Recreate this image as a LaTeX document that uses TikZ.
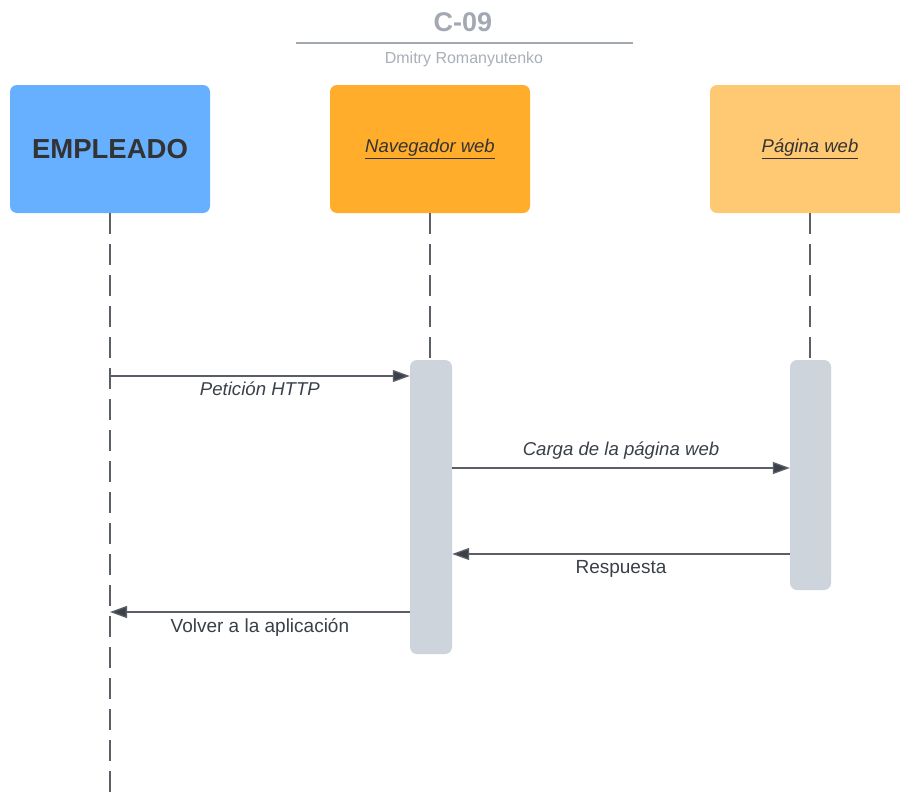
\documentclass[tikz,border=0pt]{standalone}
\usepackage{fontspec}
\setmainfont{Liberation Sans}
\usetikzlibrary{arrows.meta}

\definecolor{titlegray}{HTML}{A3A9B3}
\definecolor{subgray}{HTML}{A9AFB8}
\definecolor{empblue}{HTML}{67B0FF}
\definecolor{navorange}{HTML}{FFAD2B}
\definecolor{paglight}{HTML}{FFC973}
\definecolor{actgray}{HTML}{CED4DC}
\definecolor{inkdark}{HTML}{333333}
\definecolor{labelink}{HTML}{3A4049}
\definecolor{wire}{HTML}{5A5F66}
\definecolor{tipink}{HTML}{3B4148}

\tikzset{
  actor/.style={rounded corners=7pt, minimum width=200pt, minimum height=128pt,
    inner sep=0pt, text=inkdark},
  activation/.style={rounded corners=7pt, fill=actgray, minimum width=42pt,
    inner sep=0pt},
  lifeline/.style={draw=wire, line width=1.3pt, dash pattern=on 21pt off 10pt},
  msg/.style={draw=wire, line width=1.3pt,
    -{Triangle[length=17pt,width=12pt,fill=tipink]}},
  msglabel/.style={text=labelink, font=\fontsize{19}{21}\selectfont, inner sep=0pt},
  italabel/.style={msglabel, font=\itshape\fontsize{18.6}{21}\selectfont},
}

\begin{document}
\begin{tikzpicture}[x=1pt,y=-1pt]
  \useasboundingbox (0,0) rectangle (900,798);
  \clip (0,0) rectangle (900,798);
  \fill[white] (0,0) rectangle (900,798);

  % heading
  \node[text=titlegray, font=\bfseries\fontsize{27}{30}\selectfont] (title) at (463,22) {C-09};
  \coordinate (ruleL) at (296,43);
  \coordinate (ruleR) at (633,43);
  \draw[titlegray, line width=2pt] (ruleL) -- (ruleR);
  \node[text=subgray, font=\fontsize{16}{18}\selectfont] (author) at (464,59) {Dmitry Romanyutenko};

  % participants
  \node[actor, fill=empblue, font=\bfseries\fontsize{27.5}{30}\selectfont] (emp) at (110,149) {EMPLEADO};
  \node[actor, fill=navorange, font=\itshape\fontsize{18.5}{20}\selectfont] (nav) at (430,149) {\underline{Navegador web}};
  \node[actor, fill=paglight, font=\itshape\fontsize{18.5}{20}\selectfont] (pag) at (810,149) {\underline{Página web}};

  % activation bars
  \node[activation, minimum height=294pt] (act1) at (431,507) {};
  \node[activation, minimum width=41pt, minimum height=230pt] (act2) at (810.5,475) {};

  % lifelines
  \coordinate (empend) at (110,800);
  \draw[lifeline] (emp.south) -- (empend);
  \draw[lifeline] (nav.south) -- (nav.south |- act1.north);
  \draw[lifeline] (pag.south) -- (pag.south |- act2.north);

  % messages
  \coordinate (m1) at (110,376);
  \draw[msg] (m1) -- (act1.west |- m1)
    node[italabel, pos=0.5, below=5pt] (l1) {Petición HTTP};

  \coordinate (m2) at (452,468);
  \draw[msg] (act1.east |- m2) -- (act2.west |- m2)
    node[italabel, pos=0.5, above=8pt] (l2) {Carga de la página web};

  \coordinate (m3) at (790,554);
  \draw[msg] (act2.west |- m3) -- (act1.east |- m3)
    node[msglabel, pos=0.5, below=6pt] (l3) {Respuesta};

  \coordinate (m4) at (110,612);
  \draw[msg] (act1.west |- m4) -- (m4)
    node[msglabel, pos=0.5, below=6pt] (l4) {Volver a la aplicación};
\end{tikzpicture}
\end{document}
